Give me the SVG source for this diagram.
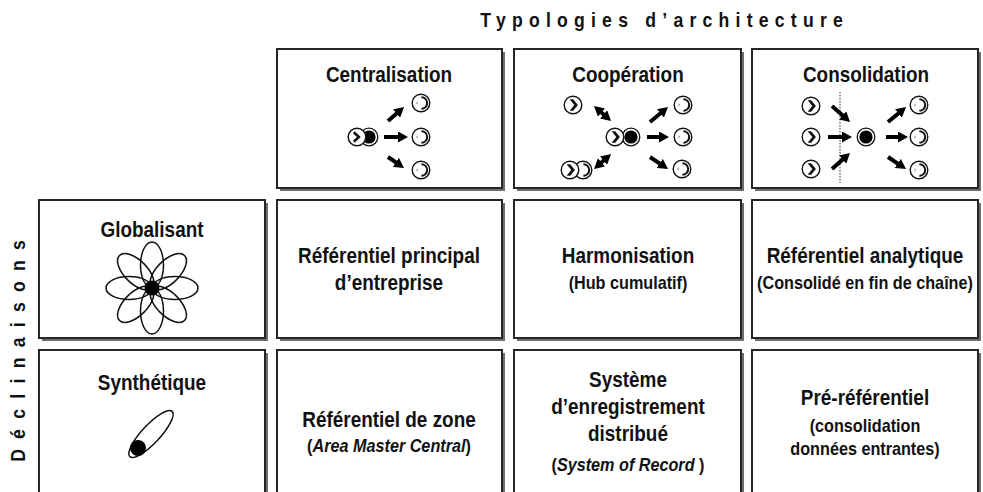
<svg xmlns="http://www.w3.org/2000/svg" xmlns:xlink="http://www.w3.org/1999/xlink" width="983" height="492" viewBox="0 0 983 492">
  <style>
    .shadow { fill: #6e6e6e; }
    .box { fill: #ffffff; stroke: #262626; stroke-width: 2; }
    .t { font-family: "Liberation Sans", Arial, sans-serif; font-weight: bold; font-size: 21.5px; fill: #111; text-anchor: middle;
         transform: scaleX(0.88); transform-box: fill-box; transform-origin: center; }
    .s { font-size: 18px; transform: scaleX(0.9); }
    .it { font-style: italic; }
    .hd { font-family: "Liberation Sans", Arial, sans-serif; font-weight: bold; font-size: 20px; fill: #111; text-anchor: middle;
          transform: scaleX(0.88); transform-box: fill-box; transform-origin: center; }
    .arr { stroke: #000; stroke-width: 4; fill: none; marker-end: url(#ah); }
    .both { marker-start: url(#ah); }
    .ln { fill: none; stroke: #111; stroke-width: 1.5; }
  </style>
  <defs>
    <marker id="ah" markerUnits="userSpaceOnUse" markerWidth="10" markerHeight="11" viewBox="0 0 10 11" refX="5" refY="5.5" orient="auto-start-reverse">
      <path d="M0,0 L10,5.5 L0,11 z" fill="#000"/>
    </marker>
    <!-- target system: ring with inner bracket -->
    <g id="tgt">
      <circle r="8.8" fill="#fff" stroke="#111" stroke-width="1.4"/>
      <path d="M0.4,-5.8 A5.8,5.8 0 0 1 0.4,5.8" fill="none" stroke="#111" stroke-width="2"/>
      <path d="M-3.9,-1.3 v2.6" stroke="#777" stroke-width="0.9"/>
    </g>
    <!-- back ring with bracket only -->
    <g id="ring">
      <circle r="8.8" fill="#fff" stroke="#111" stroke-width="1.4"/>
      <path d="M0.4,-5.8 A5.8,5.8 0 0 1 0.4,5.8" fill="none" stroke="#111" stroke-width="2"/>
    </g>
    <!-- source with open chevron -->
    <g id="srcW">
      <circle r="8.8" fill="#fff" stroke="#111" stroke-width="1.5"/>
      <polyline points="-3.2,-4.8 1.9,0 -3.2,4.8" fill="none" stroke="#111" stroke-width="2.6"/>
    </g>
    <!-- source with solid chevron -->
    <g id="srcB">
      <circle r="8.8" fill="#fff" stroke="#111" stroke-width="1.4"/>
      <polygon points="-3.4,-5.8 0.2,-5.8 4.9,0 0.2,5.8 -3.4,5.8 1.3,0" fill="#111"/>
    </g>
    <!-- solid hub with ring -->
    <g id="hub">
      <circle r="8.8" fill="#fff" stroke="#111" stroke-width="1.3"/>
      <circle r="6.6" fill="#000"/>
    </g>
    <!-- one petal of the flower -->
    <ellipse id="petal" cx="23" cy="0" rx="23" ry="11.5" fill="none" stroke="#111" stroke-width="1.5"/>
  </defs>

  <!-- headings -->
  <text class="hd" x="661.5" y="27" textLength="412" lengthAdjust="spacing">Typologies d’architecture</text>
  <g transform="translate(25,351) rotate(-90)">
    <text class="hd" x="0" y="0" textLength="252" lengthAdjust="spacing">Déclinaisons</text>
  </g>

  <!-- row 0: architecture types -->
  <g id="centralisation">
    <rect class="shadow" x="280" y="52" width="225" height="139"/>
    <rect class="box" x="277" y="49" width="225" height="139"/>
    <text class="t" x="389" y="82">Centralisation</text>
    <use xlink:href="#hub" x="369" y="137"/>
    <use xlink:href="#srcW" x="357" y="137"/>
    <use xlink:href="#tgt" x="421" y="103"/>
    <use xlink:href="#tgt" x="421" y="137"/>
    <use xlink:href="#tgt" x="421" y="170"/>
  </g>
  <g id="cooperation">
    <rect class="shadow" x="517" y="52" width="227" height="139"/>
    <rect class="box" x="514" y="49" width="227" height="139"/>
    <text class="t" x="628" y="82">Coopération</text>
    <use xlink:href="#srcB" x="573" y="105"/>
    <use xlink:href="#hub" x="631" y="137"/>
    <use xlink:href="#srcB" x="615" y="137"/>
    <use xlink:href="#ring" x="583" y="170"/>
    <use xlink:href="#srcB" x="570" y="170"/>
    <use xlink:href="#tgt" x="683" y="105"/>
    <use xlink:href="#tgt" x="683" y="137"/>
    <use xlink:href="#tgt" x="682" y="169"/>
  </g>
  <g id="consolidation">
    <rect class="shadow" x="755" y="52" width="226" height="139"/>
    <rect class="box" x="752" y="49" width="226" height="139"/>
    <text class="t" x="866" y="82">Consolidation</text>
    <line x1="840" y1="92" x2="840" y2="183" stroke="#333" stroke-width="1" stroke-dasharray="1.5,1.5"/>
    <use xlink:href="#srcB" x="811" y="106"/>
    <use xlink:href="#srcB" x="811" y="137"/>
    <use xlink:href="#srcB" x="811" y="169"/>
    <use xlink:href="#hub" x="866" y="137"/>
    <use xlink:href="#tgt" x="919" y="105"/>
    <use xlink:href="#tgt" x="919" y="137"/>
    <use xlink:href="#tgt" x="919" y="170"/>
  </g>

  <!-- row 1 -->
  <g id="globalisant">
    <rect class="shadow" x="42" y="203" width="226" height="138"/>
    <rect class="box" x="39" y="200" width="226" height="138"/>
    <text class="t" x="152" y="237">Globalisant</text>
    <g transform="translate(152,288)">
      <use xlink:href="#petal" transform="rotate(0)"/>
      <use xlink:href="#petal" transform="rotate(45)"/>
      <use xlink:href="#petal" transform="rotate(90)"/>
      <use xlink:href="#petal" transform="rotate(135)"/>
      <use xlink:href="#petal" transform="rotate(180)"/>
      <use xlink:href="#petal" transform="rotate(225)"/>
      <use xlink:href="#petal" transform="rotate(270)"/>
      <use xlink:href="#petal" transform="rotate(315)"/>
      <circle r="7.5" fill="#000"/>
    </g>
  </g>
  <g id="ref-principal">
    <rect class="shadow" x="280" y="203" width="225" height="138"/>
    <rect class="box" x="277" y="200" width="225" height="138"/>
    <text class="t" x="389" y="263">Référentiel principal</text>
    <text class="t" x="389" y="290">d’entreprise</text>
  </g>
  <g id="harmonisation">
    <rect class="shadow" x="517" y="203" width="227" height="138"/>
    <rect class="box" x="514" y="200" width="227" height="138"/>
    <text class="t" x="628" y="263">Harmonisation</text>
    <text class="t s" x="628" y="289">(Hub cumulatif)</text>
  </g>
  <g id="ref-analytique">
    <rect class="shadow" x="755" y="203" width="226" height="138"/>
    <rect class="box" x="752" y="200" width="226" height="138"/>
    <text class="t" x="865" y="263">Référentiel analytique</text>
    <text class="t s" x="865" y="289">(Consolidé en fin de chaîne)</text>
  </g>

  <!-- row 2 -->
  <g id="synthetique">
    <rect class="shadow" x="42" y="353" width="226" height="145"/>
    <rect class="box" x="39" y="350" width="226" height="145"/>
    <text class="t" x="152" y="390">Synthétique</text>
    <ellipse class="ln" cx="151" cy="434" rx="31" ry="9" transform="rotate(-47 151 434)"/>
    <circle cx="138" cy="448" r="8" fill="#000"/>
  </g>
  <g id="ref-zone">
    <rect class="shadow" x="280" y="353" width="225" height="145"/>
    <rect class="box" x="277" y="350" width="225" height="145"/>
    <text class="t" x="389" y="427">Référentiel de zone</text>
    <text class="t s" x="389" y="452">(<tspan class="it">Area Master Central</tspan>)</text>
  </g>
  <g id="system-of-record">
    <rect class="shadow" x="517" y="353" width="227" height="145"/>
    <rect class="box" x="514" y="350" width="227" height="145"/>
    <text class="t" x="628" y="387">Système</text>
    <text class="t" x="628" y="414">d’enregistrement</text>
    <text class="t" x="628" y="441">distribué</text>
    <text class="t s" x="628" y="471">(<tspan class="it">System of Record </tspan>)</text>
  </g>
  <g id="pre-referentiel">
    <rect class="shadow" x="755" y="353" width="226" height="145"/>
    <rect class="box" x="752" y="350" width="226" height="145"/>
    <text class="t" x="865" y="405">Pré-référentiel</text>
    <text class="t s" x="865" y="432">(consolidation</text>
    <text class="t s" x="865" y="455">données entrantes)</text>
  </g>

  <!-- flow arrows -->
  <g id="connectors">
    <line class="arr" x1="388" y1="121" x2="400.3" y2="110.3"/>
    <line class="arr" x1="384" y1="137" x2="403" y2="137"/>
    <line class="arr" x1="388" y1="157" x2="399.9" y2="165.2"/>

    <line class="arr both" x1="597.8" y1="109.3" x2="607.3" y2="117.7"/>
    <line class="arr both" x1="597.8" y1="165.7" x2="607.3" y2="157.3"/>
    <line class="arr" x1="650" y1="122" x2="664.2" y2="110.2"/>
    <line class="arr" x1="647" y1="137" x2="664" y2="137"/>
    <line class="arr" x1="650" y1="157" x2="663.9" y2="166.3"/>

    <line class="arr" x1="832" y1="106" x2="846.3" y2="118.7"/>
    <line class="arr" x1="828" y1="137" x2="847" y2="137"/>
    <line class="arr" x1="832" y1="169" x2="846.3" y2="156.3"/>
    <line class="arr" x1="888" y1="122" x2="902.2" y2="110.2"/>
    <line class="arr" x1="886" y1="137" x2="903" y2="137"/>
    <line class="arr" x1="888" y1="157" x2="901.9" y2="166.3"/>
  </g>
</svg>
